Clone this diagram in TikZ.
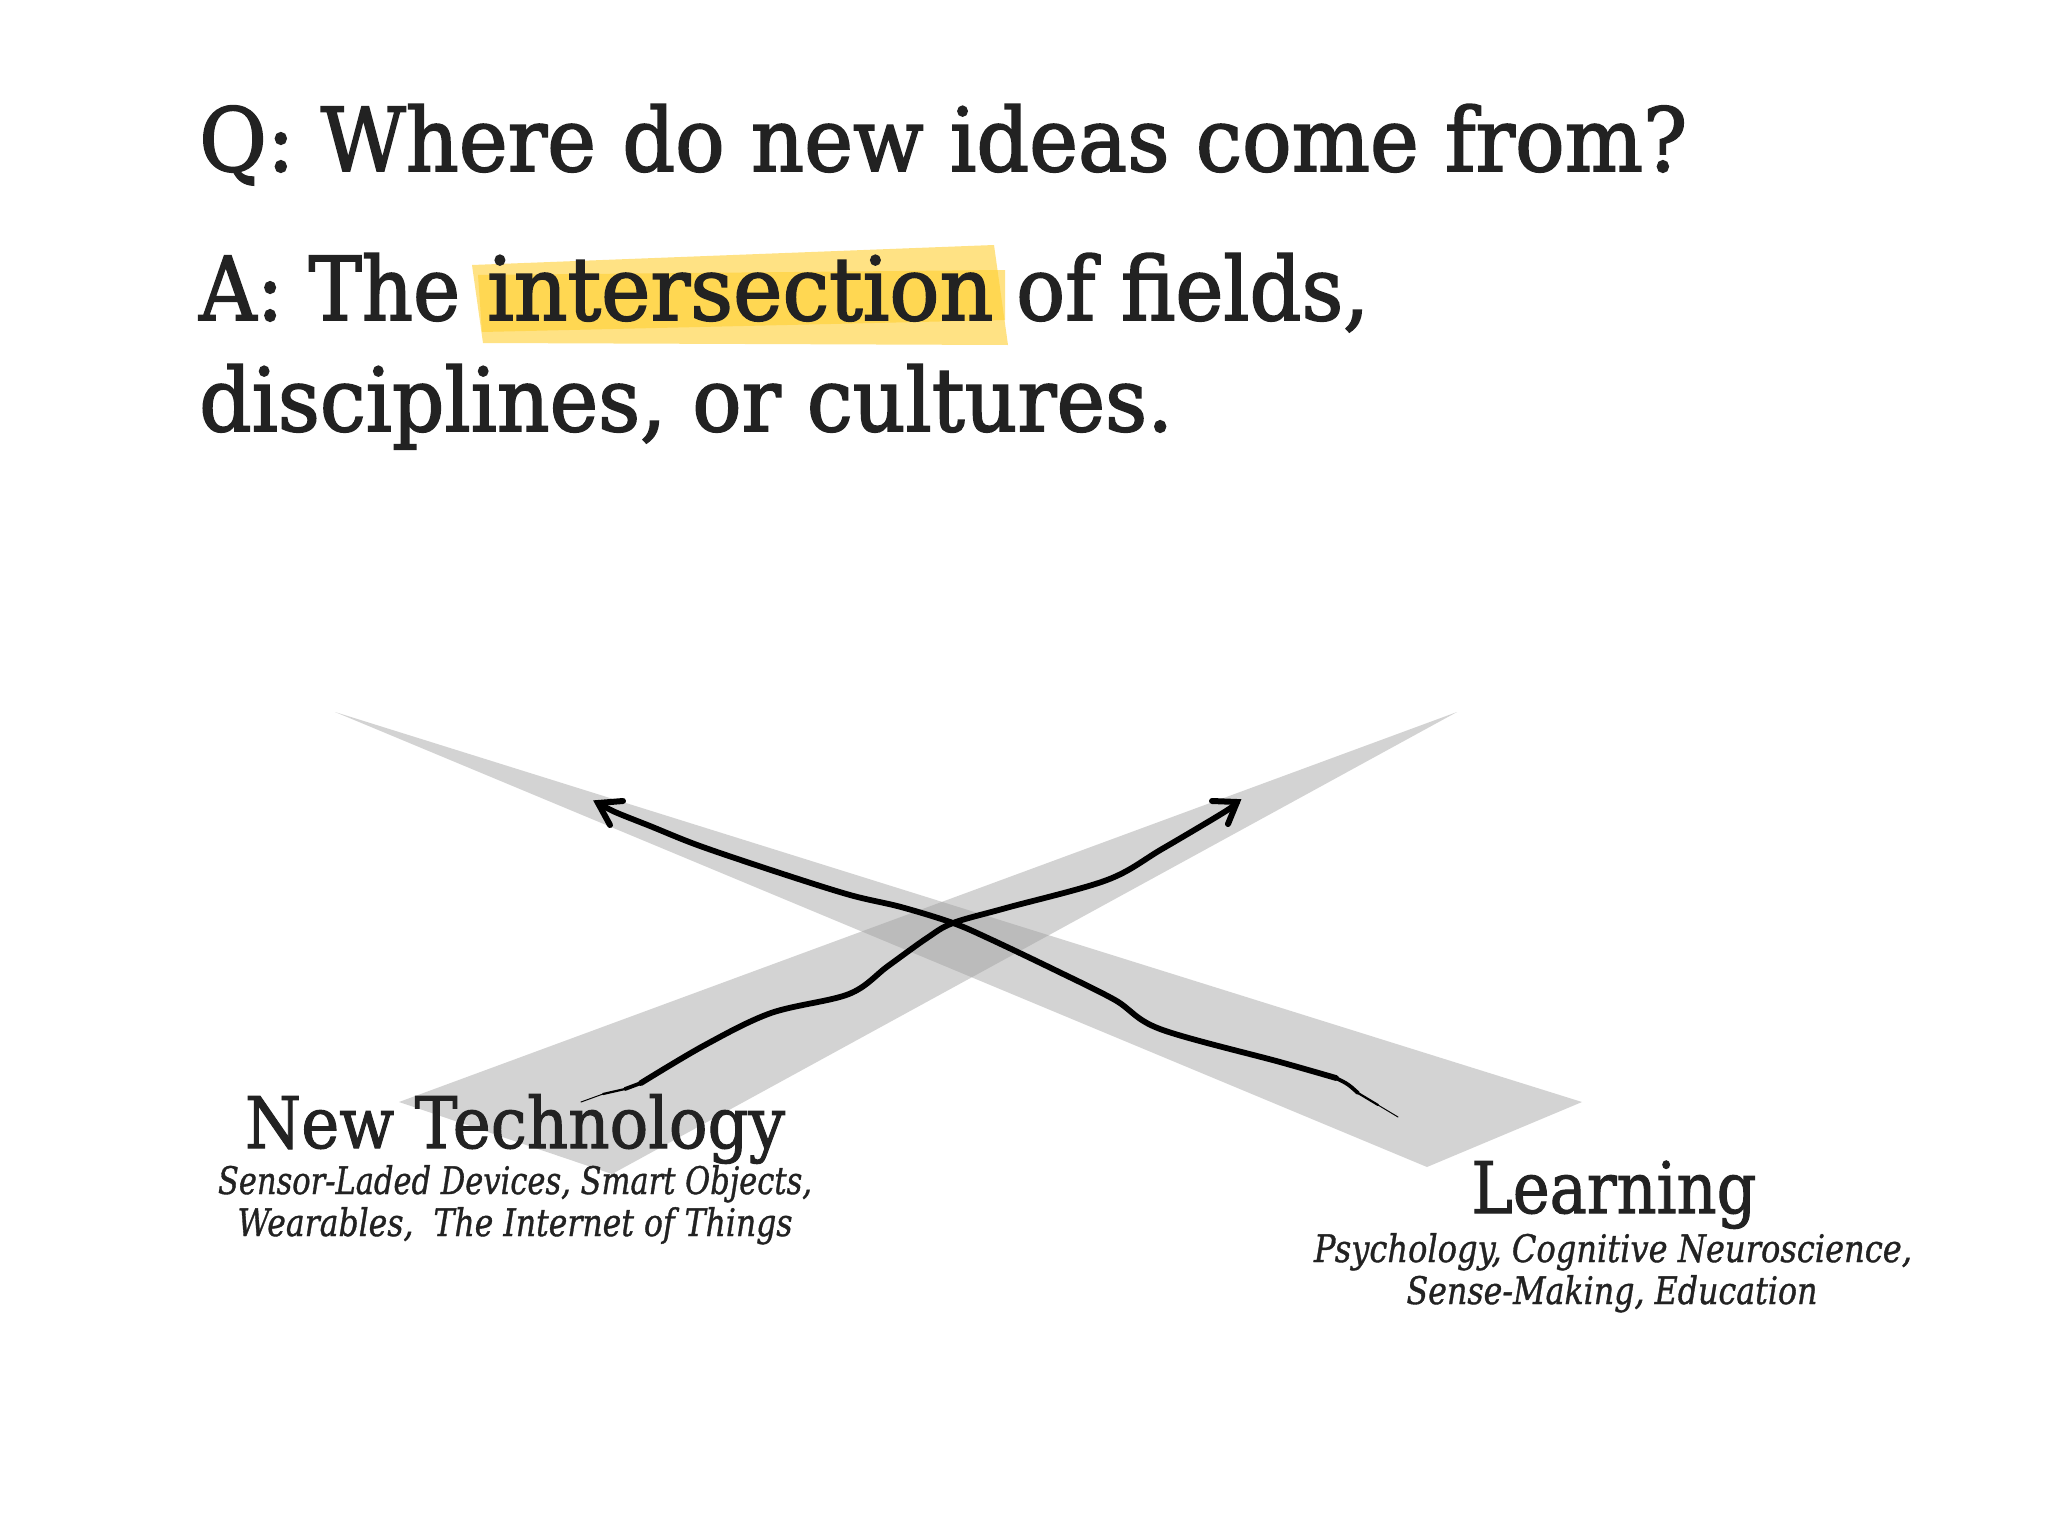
\documentclass[tikz,border=0pt]{standalone}
\usepackage{fontspec}
\setmainfont{DejaVu Serif}
\usepackage{graphicx}
\usetikzlibrary{arrows.meta}
\definecolor{ink}{HTML}{222222}
\definecolor{band}{RGB}{157,157,157}
\definecolor{hl}{RGB}{255,208,50}
\newcommand\fitw[2]{\resizebox{#1}{\height}{#2}}
\tikzset{
  big/.style={inner sep=0pt, text=ink, font=\fontsize{88}{100}\selectfont\addfontfeature{FakeBold=2}},
  lab/.style={inner sep=0pt, text=ink, font=\fontsize{71}{80}\selectfont\addfontfeature{FakeBold=1.5}},
  sub/.style={inner sep=0pt, text=ink, font=\fontsize{38}{44}\selectfont\itshape\addfontfeature{FakeBold=1}},
  bandfill/.style={fill=band, fill opacity=0.44},
  hlfill/.style={fill=hl, fill opacity=0.6},
  stroke/.style={draw=black, line width=5.8pt, line cap=round, line join=round},
  head/.style={draw=black, line width=6pt, line cap=round, line join=miter}
}
\begin{document}
\begin{tikzpicture}[x=1pt,y=-1pt]
\useasboundingbox (0,0) rectangle (2048,1536);
\fill[white] (0,0) rectangle (2048,1536);

% highlight
\fill[hlfill] (472,265) -- (994,245) -- (1008,345) -- (483,343) -- cycle;
\fill[hlfill] (478,275) -- (1005,270) -- (1005,320) -- (482,332) -- cycle;

% title text
\node[big, anchor=base west] (q) at (199,171) {\fitw{1488pt}{Q: Where do new ideas come from?}};
\node[big, anchor=base west] (a1) at (199,320) {\fitw{261pt}{A: The}};
\node[big, anchor=base west] (a2) at (487,320) {\fitw{506pt}{intersection}};
\node[big, anchor=base west] (a3) at (1016,320) {\fitw{353pt}{of fields,}};
\node[big, anchor=base west] (a4) at (199,431) {\fitw{974pt}{disciplines, or cultures.}};

% bands
\coordinate (la) at (335,712);
\coordinate (lb) at (1582,1102);
\coordinate (lc) at (1427,1167);
\coordinate (ra) at (1457,712);
\coordinate (rb) at (399,1102);
\coordinate (rc) at (612,1174);
\fill[bandfill] (la) -- (lb) -- (lc) -- cycle;
\fill[bandfill] (ra) -- (rb) -- (rc) -- cycle;

% Learning stroke
\coordinate (ls) at (1398,1117);
\coordinate (lm) at (1336,1078);
\coordinate (lt) at (598,803);
\draw[stroke] plot[smooth, tension=0.55] coordinates {(lm) (1280,1062) (1160,1029) (1115,1000) (1055,970) (990,939) (953,923) (901,907) (850,895) (780,873) (700,846) (650,826) (615,812) (lt)};
\draw[head] (623,801) -- (lt) -- (610,825);
\draw[black, line width=3.8pt, line cap=round] (lm) .. controls (1348,1084) .. (1358,1093);
\draw[black, line width=2.2pt, line cap=round] (1358,1093) -- (1378,1105);
\draw[black, line width=1pt, line cap=round] (1378,1105) -- (ls);

% New Technology stroke
\coordinate (ns) at (581,1102);
\coordinate (nm) at (641,1083);
\coordinate (nt) at (1237,802);
\draw[stroke] plot[smooth, tension=0.55] coordinates {(nm) (705,1045) (771,1013) (849,994) (888,966) (927,938) (953,923) (1006,908) (1107,880) (1162,849) (1226,811) (nt)};
\draw[head] (1212,801) -- (nt) -- (1228,824);
\draw[black, line width=3.8pt, line cap=round] (nm) -- (625,1089);
\draw[black, line width=2.2pt, line cap=round] (625,1089) -- (603,1094);
\draw[black, line width=1pt, line cap=round] (603,1094) -- (ns);

% labels
\node[lab, anchor=base] (nlab) at (515,1148) {\fitw{540pt}{New Technology}};
\node[sub, anchor=base] (ns1) at (515,1194) {\fitw{594pt}{Sensor-Laded Devices, Smart Objects,}};
\node[sub, anchor=base] (ns2) at (515,1236) {\fitw{555pt}{Wearables,\ \ The Internet of Things}};
\node[lab, anchor=base] (llab) at (1614,1213) {\fitw{285pt}{Learning}};
\node[sub, anchor=base] (ls1) at (1613,1262) {\fitw{598pt}{Psychology, Cognitive Neuroscience,}};
\node[sub, anchor=base] (ls2) at (1612,1304) {\fitw{411pt}{Sense-Making, Education}};
\end{tikzpicture}
\end{document}
